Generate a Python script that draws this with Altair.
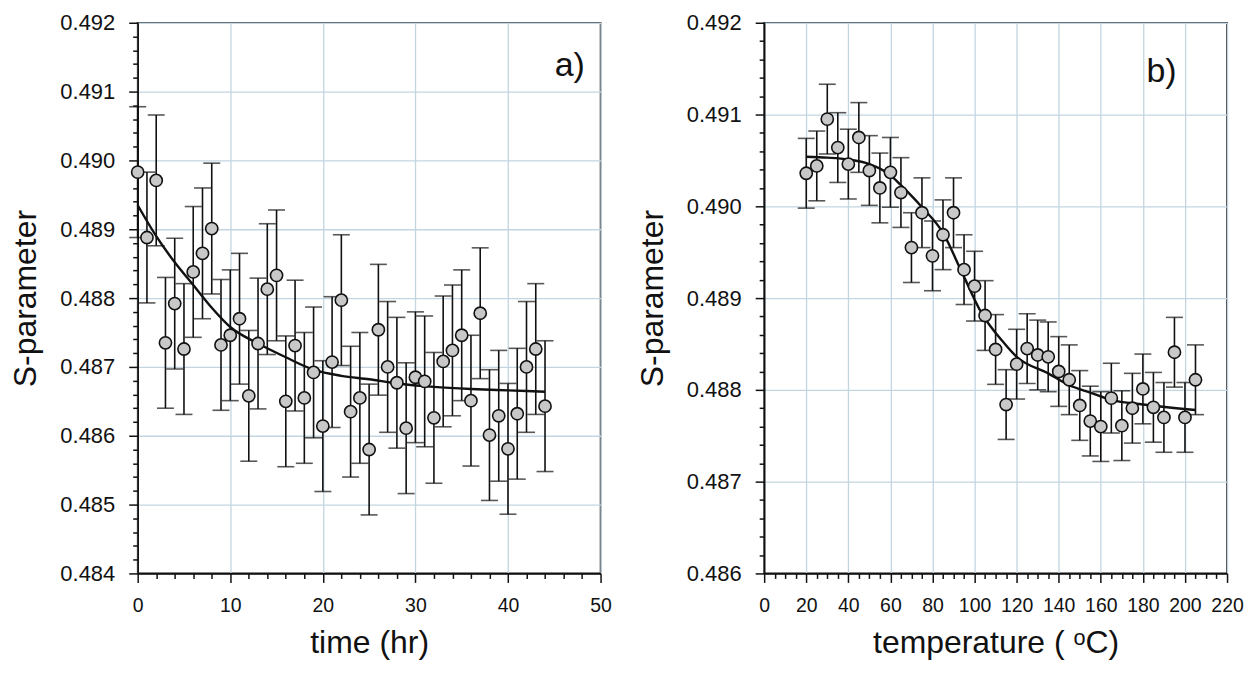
import altair as alt
import pandas as pd

# ---------------- panel a) : S-parameter vs time ----------------
time_hr = list(range(45))
s_time = [0.48983, 0.48888, 0.48971, 0.48735, 0.48792, 0.48726, 0.48838, 0.48865,
          0.48901, 0.48732, 0.48746, 0.48770, 0.48658, 0.48734, 0.48813, 0.48833,
          0.48650, 0.48731, 0.48655, 0.48692, 0.48614, 0.48707, 0.48797, 0.48635,
          0.48655, 0.48580, 0.48754, 0.48700, 0.48677, 0.48611, 0.48685, 0.48679,
          0.48626, 0.48708, 0.48724, 0.48746, 0.48651, 0.48778, 0.48601, 0.48629,
          0.48581, 0.48632, 0.48700, 0.48726, 0.48643]
err_time = 0.00095
fit_time_t = [0, 2, 4, 6, 8, 10, 13, 16, 19, 22, 25, 28, 32, 36, 40, 44]
fit_time_s = [0.48935, 0.48890, 0.48852, 0.48819, 0.48786, 0.48758, 0.48734, 0.48714,
              0.48696, 0.48687, 0.48682, 0.48676, 0.48671, 0.48668, 0.48666, 0.48664]

# ---------------- panel b) : S-parameter vs temperature ----------------
temp_c = list(range(20, 206, 5))
s_temp = [0.49036, 0.49044, 0.49095, 0.49064, 0.49046, 0.49075, 0.49039, 0.49020,
          0.49037, 0.49015, 0.48955, 0.48993, 0.48946, 0.48969, 0.48993, 0.48931,
          0.48913, 0.48881, 0.48844, 0.48784, 0.48828, 0.48845, 0.48838, 0.48836,
          0.48820, 0.48811, 0.48783, 0.48766, 0.48760, 0.48791, 0.48761, 0.48780,
          0.48801, 0.48781, 0.48770, 0.48841, 0.48770, 0.48811]
err_temp = 0.00038
fit_temp_T = [20, 30, 40, 50, 60, 65, 75, 85, 94, 103, 114, 120, 135, 145, 155, 165, 180, 205]
fit_temp_s = [0.49054, 0.49053, 0.49051, 0.49046, 0.49034, 0.49023, 0.48999, 0.48971,
              0.48928, 0.48885, 0.48851, 0.48836, 0.48818, 0.48805, 0.48797, 0.48789,
              0.48784, 0.48778]

panel_labels = ["a)", "b)"]
label_x = [48.3, 196.0]
label_y = [0.49123, 0.49135]

FONT = "Liberation Sans"
GRID = "#c3d5e0"
INK = "#111111"
PLOT_H = 552


def y_axis(lo, hi, title):
    n = int(round((hi - lo) / 0.0002))
    vals = [round(lo + i * 0.0002, 4) for i in range(n + 1)]
    major = "abs(datum.value*1000 - round(datum.value*1000)) < 0.01"
    return alt.Axis(
        values=vals,
        labelExpr=f"{major} ? format(datum.value, '.3f') : ''",
        tickSize={"condition": {"test": major, "value": 9}, "value": 5},
        gridOpacity={"condition": {"test": major, "value": 1}, "value": 0},
        grid=True, gridColor=GRID, gridWidth=1.3,
        domainColor=INK, domainWidth=1.6, tickColor=INK, tickWidth=1.5,
        labelFont=FONT, labelFontSize=22, labelColor=INK, labelPadding=14,
        labelOverlap=False, labelFlush=False,
        title=title, titleFont=FONT, titleFontSize=32, titleFontWeight="normal",
        titleColor=INK, titleX=-102, titleY=PLOT_H / 2, titleAngle=270,
        titleAlign="center", titleBaseline="alphabetic",
    )


def x_axis(lo, hi, step, major_step, title, width):
    vals = list(range(lo, hi + 1, step))
    major = f"datum.value % {major_step} == 0"
    return alt.Axis(
        values=vals,
        labelExpr=f"{major} ? format(datum.value, 'd') : ''",
        tickSize={"condition": {"test": major, "value": 9}, "value": 5},
        gridOpacity={"condition": {"test": major, "value": 1}, "value": 0},
        grid=True, gridColor=GRID, gridWidth=1.3,
        domainColor=INK, domainWidth=1.6, tickColor=INK, tickWidth=1.5,
        labelFont=FONT, labelFontSize=19.5, labelColor=INK, labelPadding=14,
        labelOverlap=False, labelFlush=False,
        title=title, titleFont=FONT, titleFontSize=32, titleFontWeight="normal",
        titleColor=INK, titleX=width / 2, titleY=79,
        titleAlign="center", titleBaseline="alphabetic",
    )


def panel(xs, ys, err, fit_x, fit_y, xdom, ydom, xax, yax, width, lab_idx):
    pts = pd.DataFrame({"x": xs, "y": ys})
    pts["lo"] = pts["y"] - err
    pts["hi"] = pts["y"] + err
    fit = pd.DataFrame({"x": fit_x, "y": fit_y})
    lab = pd.DataFrame({"x": [label_x[lab_idx]], "y": [label_y[lab_idx]],
                        "t": [panel_labels[lab_idx]]})

    X = alt.X("x:Q", scale=alt.Scale(domain=xdom, nice=False, zero=False), axis=xax)

    def Y(field):
        return alt.Y(f"{field}:Q", scale=alt.Scale(domain=ydom, nice=False, zero=False),
                     axis=yax)

    bars = alt.Chart(pts).mark_rule(color=INK, strokeWidth=1.6).encode(
        x=X, y=Y("lo"), y2="hi")
    cap_top = alt.Chart(pts).mark_tick(color=INK, thickness=1.6, size=17,
                                       orient="horizontal").encode(x=X, y=Y("hi"))
    cap_bot = alt.Chart(pts).mark_tick(color=INK, thickness=1.6, size=17,
                                       orient="horizontal").encode(x=X, y=Y("lo"))
    line = alt.Chart(fit).mark_line(color=INK, strokeWidth=2.4,
                                    interpolate="monotone").encode(x=X, y=Y("y"))
    dots = alt.Chart(pts).mark_point(shape="circle", filled=True, size=150,
                                     fill="#c8c8c8", stroke=INK, strokeWidth=1.6,
                                     opacity=1).encode(x=X, y=Y("y"))
    txt = alt.Chart(lab).mark_text(font=FONT, fontSize=34, color=INK, align="right",
                                   baseline="alphabetic").encode(x=X, y=Y("y"), text="t:N")
    return alt.layer(bars, cap_top, cap_bot, line, dots, txt).properties(
        width=width, height=PLOT_H)


left = panel(time_hr, s_time, err_time, fit_time_t, fit_time_s, [0, 50], [0.484, 0.492],
             x_axis(0, 50, 2, 10, "time (hr)", 464),
             y_axis(0.484, 0.492, "S-parameter"), 464, 0)

right = panel(temp_c, s_temp, err_temp, fit_temp_T, fit_temp_s, [0, 220], [0.486, 0.492],
              x_axis(0, 220, 5, 20, "temperature ( ᵒC)", 464),
              y_axis(0.486, 0.492, "S-parameter"), 464, 1)

chart = alt.hconcat(left, right, spacing=164, bounds="flush").configure_view(
    stroke=INK, strokeWidth=1.6).properties(
    padding={"left": 1, "top": 2, "right": 0, "bottom": 0}, background="white")

chart.save("out.html", embed_options={"renderer": "svg", "actions": False})
